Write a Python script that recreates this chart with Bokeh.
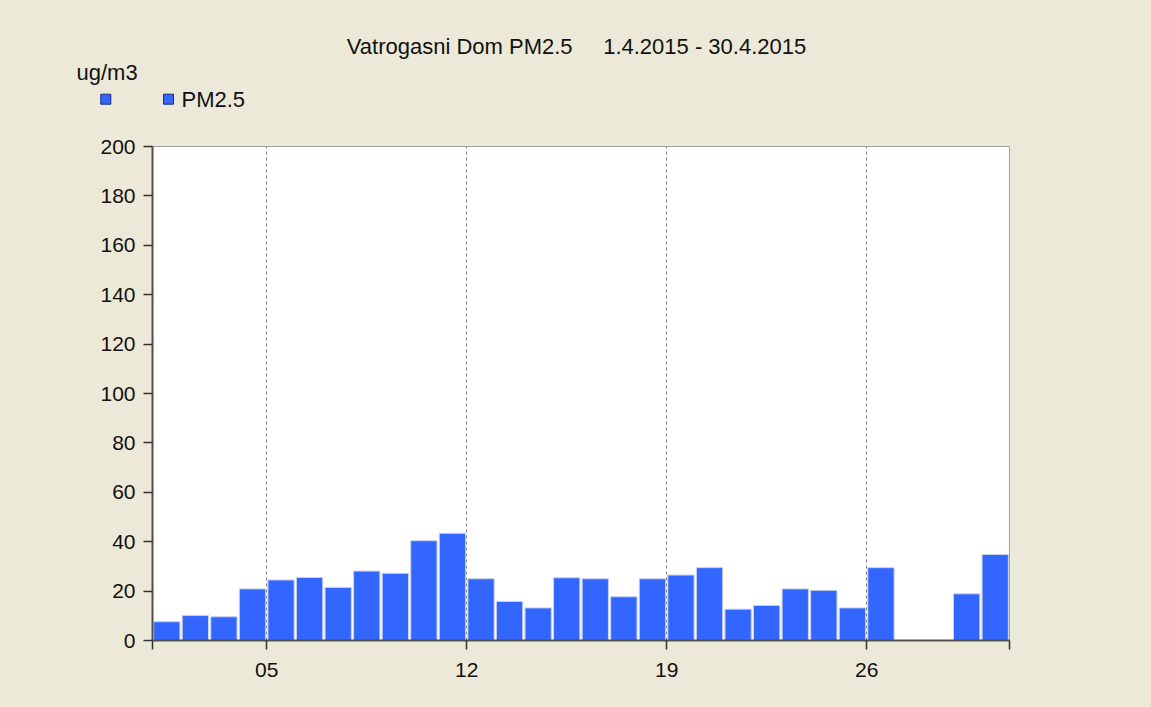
from bokeh.plotting import figure
from bokeh.layouts import column, row
from bokeh.models import Range1d, FixedTicker, ColumnDataSource
from bokeh.core.properties import value
from bokeh.embed import file_html
from bokeh.resources import INLINE

# ---- data ----
days = list(range(1, 31))
pm25 = [7.6, 10.1, 9.6, 20.9, 24.5, 25.5, 21.5, 28.1, 27.2, 40.4,
        43.4, 25.0, 15.8, 13.2, 25.4, 25.0, 17.7, 25.0, 26.5, 29.5,
        12.7, 14.2, 20.9, 20.3, 13.2, 29.5, None, None, 18.9, 34.8]
x_tick_pos = [0, 4, 11, 18, 25, 30]
x_tick_labels = ["", "05", "12", "19", "26", ""]
y_ticks = list(range(0, 201, 20))
title_text = "Vatrogasni Dom PM2.5" + "\u00a0" * 5 + "1.4.2015 - 30.4.2015"
unit_text = "ug/m3"
series_name = "PM2.5"

FONT = "Liberation Sans"
BG = "#ECE9D8"
BAR = "#3366FF"
TXT = "#111111"
W = 1151
HEAD_H = 126

# ---------------- header (title, unit, legend) ----------------
head = figure(width=W, height=HEAD_H, output_backend="svg", toolbar_location=None,
              x_range=Range1d(0, W), y_range=Range1d(HEAD_H, 0), title=None,
              x_axis_type=None, y_axis_type=None, min_border=0)
head.min_border_left = head.min_border_right = 0
head.min_border_top = head.min_border_bottom = 0
head.grid.visible = False
head.outline_line_color = None
head.background_fill_color = BG
head.border_fill_color = BG

head.text(x=[576], y=[46], text=[title_text], text_align="center",
          text_baseline="alphabetic", text_font=value(FONT),
          text_font_size=value("22px"), text_color=TXT)
head.text(x=[76], y=[72], text=[unit_text], text_align="left",
          text_baseline="alphabetic", text_font=value(FONT),
          text_font_size=value("22px"), text_color=TXT)
head.scatter(x=[105.3, 168], y=[98.7, 98.7], marker="square", size=10,
             fill_color=BAR, line_color="#1a2a80", line_width=1)
head.text(x=[181], y=[99], text=[series_name], text_align="left",
          text_baseline="alphabetic", text_font=value(FONT),
          text_font_size=value("22px"), text_color=TXT)

# ---------------- main chart ----------------
xs = [d - 0.5 for d, v in zip(days, pm25) if v is not None]
tops = [v for v in pm25 if v is not None]
src = ColumnDataSource(dict(x=xs, top=tops))

MAIN_H = 705 - HEAD_H
p = figure(width=W, height=MAIN_H, output_backend="svg", toolbar_location=None,
           x_range=Range1d(0, 30), y_range=Range1d(0, 200), title=None)
p.min_border_left = 152
p.min_border_right = W - 1009
p.min_border_top = 146 - HEAD_H
p.min_border_bottom = MAIN_H - (640 - HEAD_H)
p.border_fill_color = BG
p.background_fill_color = "white"
p.outline_line_color = "#A0A0A0"

p.vbar(x="x", top="top", width=0.92, bottom=0, source=src,
       fill_color=BAR, line_color="#C8D0E8", line_width=1)

for ax in (p.xaxis[0], p.yaxis[0]):
    ax.axis_line_color = "#505050"
    ax.axis_line_width = 2
    ax.major_tick_line_color = "#303030"
    ax.major_tick_line_width = 1.5
    ax.major_tick_out = 9
    ax.major_tick_in = 0
    ax.minor_tick_line_color = None
    ax.major_label_text_font = FONT
    ax.major_label_text_font_size = "21px"
    ax.major_label_text_color = TXT

p.yaxis.ticker = FixedTicker(ticks=y_ticks)
p.yaxis.major_label_standoff = 8
p.xaxis.ticker = FixedTicker(ticks=x_tick_pos)
p.xaxis.major_label_overrides = {t: l for t, l in zip(x_tick_pos, x_tick_labels)}
p.xaxis.major_label_standoff = 13

p.ygrid.grid_line_color = None
p.xgrid.ticker = FixedTicker(ticks=[t for t, l in zip(x_tick_pos, x_tick_labels) if l])
p.xgrid.grid_line_color = "#808080"
p.xgrid.grid_line_dash = "3 3"
p.xgrid.grid_line_width = 1

layout = column(row(head), p, spacing=0)
html = file_html(layout, INLINE)
html = html.replace("</head>",
                    "<style>html, body { background-color: #ECE9D8; margin: 0; }</style></head>", 1)
open("out.html", "w").write(html)
